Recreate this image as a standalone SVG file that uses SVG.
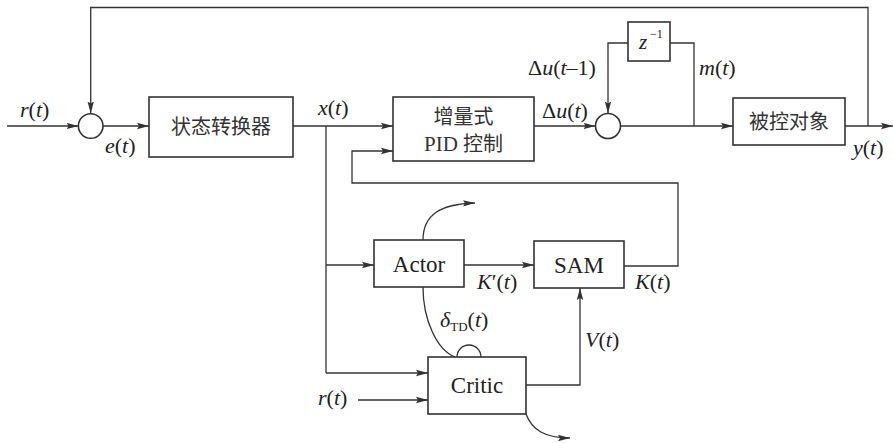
<svg xmlns="http://www.w3.org/2000/svg" width="893" height="443" viewBox="0 0 893 443">
<style>
.b{fill:#fff;stroke:#333;stroke-width:1.6}
.l{fill:none;stroke:#333;stroke-width:1.3}
.a{marker-end:url(#ah)}
.v{font-family:"Liberation Serif",serif;font-style:italic;font-size:22px;fill:#222}
.n{font-family:"Liberation Serif",serif;font-size:23px;fill:#222}
.c{font-family:"Noto Sans CJK SC",sans-serif;font-size:20px;fill:#333}
.p{font-family:"Liberation Serif",serif;font-size:21px}
</style>
<defs>
<marker id="ah" viewBox="0 0 12 8" refX="12" refY="4" markerWidth="12" markerHeight="8" markerUnits="userSpaceOnUse" orient="auto">
<path d="M0,0.8 L12,4 L0,7.2 L2,4 Z" fill="#333"/>
</marker>
</defs>
<g id="connectors">
<path class="l a" d="M7,126 H78.5"/>
<path class="l a" d="M868,126 V7.5 H90.7 V113.5"/>
<path class="l a" d="M103.2,126 H149"/>
<path class="l a" d="M293,126 H393"/>
<path class="l" d="M326,126 V373"/>
<path class="l a" d="M326,265 H374"/>
<path class="l a" d="M326,373 H428"/>
<path class="l a" d="M534,126 H595.5"/>
<path class="l a" d="M620.5,126 H733"/>
<path class="l" d="M694,126 V43 H670"/>
<path class="l a" d="M628,43 H608 V113.5"/>
<path class="l a" d="M845,126 H893"/>
<path class="l a" d="M624,266 H678 V183 H352 V151 H393"/>
<path class="l a" d="M464,265 H534"/>
<path class="l a" d="M526,385 H580 V288"/>
<path class="l a" d="M358,400 H428"/>
<path class="l" d="M423,287 C423,320 437,350 455,357"/>
<path class="l" d="M457,357 A12,12 0 0 1 481,357"/>
<path class="l a" d="M423,240 C423,215 440,204 475,203"/>
<path class="l a" d="M526,414 C532,430 545,438 570,438"/>
</g>
<g id="sum1"><circle class="b" cx="90.7" cy="126" r="12.3"/></g>
<g id="sum2"><circle class="b" cx="608" cy="126" r="12.5"/></g>
<g id="converter"><rect class="b" x="149" y="97" width="144" height="60"/><text class="c" x="221" y="134" text-anchor="middle">状态转换器</text></g>
<g id="pid"><rect class="b" x="393" y="97" width="141" height="64"/><text class="c" x="463.5" y="124" text-anchor="middle">增量式</text><text class="c" x="463.5" y="151" text-anchor="middle"><tspan class="p">PID </tspan>控制</text></g>
<g id="delay"><rect class="b" x="628" y="22" width="42" height="39"/><text class="v" x="639" y="49" style="font-size:21px">z</text><text class="n" x="650" y="38" style="font-size:12px">−1</text></g>
<g id="plant"><rect class="b" x="733" y="98" width="112" height="47"/><text class="c" x="789" y="129" text-anchor="middle">被控对象</text></g>
<g id="actor"><rect class="b" x="374" y="240" width="90" height="47"/><text class="n" x="419" y="272" text-anchor="middle">Actor</text></g>
<g id="sam"><rect class="b" x="534" y="241" width="90" height="47"/><text class="n" x="579" y="273" text-anchor="middle">SAM</text></g>
<g id="critic"><rect class="b" x="428" y="357" width="98" height="57"/><text class="n" x="477" y="393" text-anchor="middle">Critic</text></g>
<g id="labels">
<text class="v" x="20" y="117">r<tspan font-style="normal">(</tspan>t<tspan font-style="normal">)</tspan></text>
<text class="v" x="105" y="153">e<tspan font-style="normal">(</tspan>t<tspan font-style="normal">)</tspan></text>
<text class="v" x="318" y="115">x<tspan font-style="normal">(</tspan>t<tspan font-style="normal">)</tspan></text>
<text class="v" x="542" y="118"><tspan font-style="normal">Δ</tspan>u<tspan font-style="normal">(</tspan>t<tspan font-style="normal">)</tspan></text>
<text class="v" x="528" y="75"><tspan font-style="normal">Δ</tspan>u<tspan font-style="normal">(</tspan>t<tspan font-style="normal">–1)</tspan></text>
<text class="v" x="699" y="75">m<tspan font-style="normal">(</tspan>t<tspan font-style="normal">)</tspan></text>
<text class="v" x="853" y="155">y<tspan font-style="normal">(</tspan>t<tspan font-style="normal">)</tspan></text>
<text class="v" x="477" y="289">K<tspan font-style="normal">′(</tspan>t<tspan font-style="normal">)</tspan></text>
<text class="v" x="635" y="289">K<tspan font-style="normal">(</tspan>t<tspan font-style="normal">)</tspan></text>
<text class="v" x="585" y="347">V<tspan font-style="normal">(</tspan>t<tspan font-style="normal">)</tspan></text>
<text class="v" x="318" y="405">r<tspan font-style="normal">(</tspan>t<tspan font-style="normal">)</tspan></text>
<text class="v" x="440" y="327">δ<tspan font-style="normal" style="font-size:13px" dy="4">TD</tspan><tspan font-style="normal" dy="-4">(</tspan>t<tspan font-style="normal">)</tspan></text>
</g>
</svg>
